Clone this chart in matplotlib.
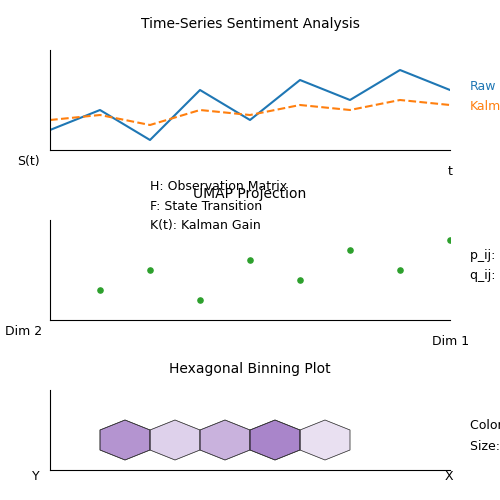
import matplotlib
matplotlib.use("Agg")
import matplotlib.pyplot as plt
from matplotlib.patches import Polygon

t = [0, 1, 2, 3, 4, 5, 6, 7, 8]
raw = [20, 40, 10, 60, 30, 70, 50, 80, 60]
kalman = [30, 35, 25, 40, 35, 45, 40, 50, 45]
umap_x = [1, 2, 3, 4, 5, 6, 7, 8]
umap_y = [30, 50, 20, 60, 40, 70, 50, 80]
hex_x = [1.5, 2.5, 3.5, 4.5, 5.5]
hex_y = [30, 30, 30, 30, 30]
hex_val = [0.7, 0.3, 0.5, 0.8, 0.2]

fig = plt.figure(figsize=(5, 5), dpi=100)

def style(ax):
    for s in ["top", "right"]:
        ax.spines[s].set_visible(False)
    ax.set_xticks([]); ax.set_yticks([])

ax1 = fig.add_axes([0.1, 0.7, 0.8, 0.2])
style(ax1)
ax1.plot(t, raw, color="#1f77b4", lw=1.5)
ax1.plot(t, kalman, color="#ff7f0e", lw=1.5, ls="--")
ax1.set_xlim(0, 8); ax1.set_ylim(0, 100)
ax1.set_title("Time-Series Sentiment Analysis", fontsize=10, pad=16)
fig.text(0.035, 0.69, "S(t)", fontsize=9, va="top")
fig.text(0.895, 0.67, "t", fontsize=9, va="top")
fig.text(0.94, 0.828, "Raw", fontsize=9, color="#1f77b4", va="center")
fig.text(0.94, 0.788, "Kalman", fontsize=9, color="#ff7f0e", va="center")

ax2 = fig.add_axes([0.1, 0.36, 0.8, 0.2])
style(ax2)
ax2.scatter(umap_x, umap_y, color="#2ca02c", s=14)
ax2.set_xlim(0, 8); ax2.set_ylim(0, 100)
ax2.set_title("UMAP Projection", fontsize=10, pad=16)
fig.text(0.3, 0.628, "H: Observation Matrix", fontsize=9, va="center")
fig.text(0.3, 0.588, "F: State Transition", fontsize=9, va="center")
fig.text(0.3, 0.548, "K(t): Kalman Gain", fontsize=9, va="center")
fig.text(0.94, 0.488, "p_ij: High-dim similarity", fontsize=9, va="center")
fig.text(0.94, 0.448, "q_ij: Low-dim similarity", fontsize=9, va="center")
fig.text(0.01, 0.35, "Dim 2", fontsize=9, va="top")
fig.text(0.863, 0.33, "Dim 1", fontsize=9, va="top")

ax3 = fig.add_axes([0.1, 0.06, 0.8, 0.16])
style(ax3)
ax3.set_xlim(0, 8); ax3.set_ylim(0, 80)
for cx, cy, v in zip(hex_x, hex_y, hex_val):
    verts = [(cx, cy + 20), (cx + 0.5, cy + 10), (cx + 0.5, cy - 10),
             (cx, cy - 20), (cx - 0.5, cy - 10), (cx - 0.5, cy + 10)]
    ax3.add_patch(Polygon(verts, closed=True, facecolor="#9467bd", alpha=v,
                          edgecolor="black", lw=0.5))
    ax3.add_patch(Polygon(verts, closed=True, facecolor="none",
                          edgecolor="#333333", lw=0.5))
ax3.set_title("Hexagonal Binning Plot", fontsize=10, pad=12)
fig.text(0.94, 0.148, "Color: Density", fontsize=9, va="center")
fig.text(0.94, 0.108, "Size: Count", fontsize=9, va="center")
fig.text(0.063, 0.048, "Y", fontsize=9, va="center")
fig.text(0.89, 0.048, "X", fontsize=9, va="center")

fig.savefig("out.png", dpi=100)
